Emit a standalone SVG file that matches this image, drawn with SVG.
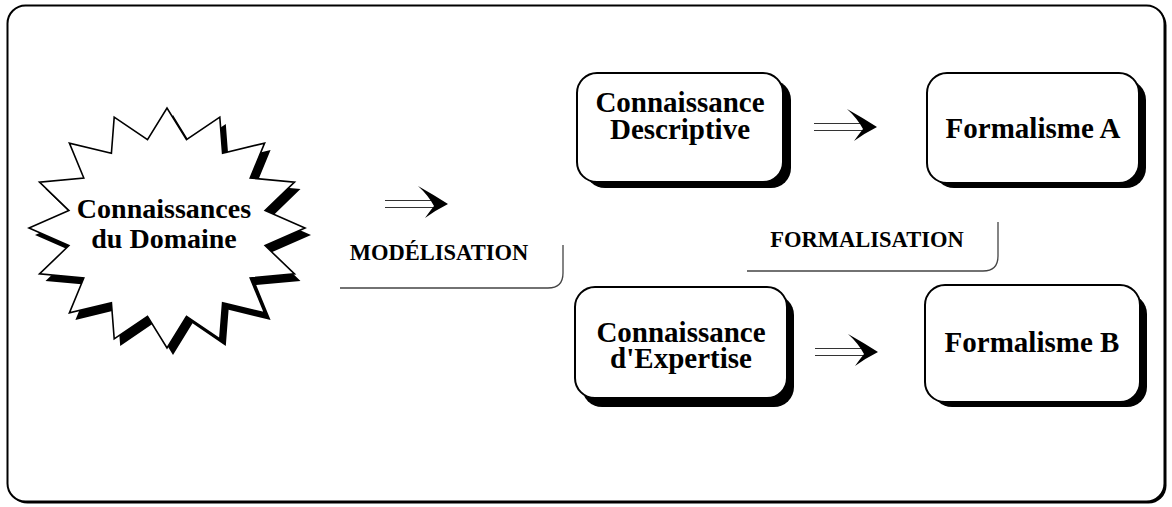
<svg xmlns="http://www.w3.org/2000/svg" width="1172" height="507" viewBox="0 0 1172 507">
  <style>
    text { font-family: 'Liberation Serif', 'DejaVu Serif', serif; font-weight: bold; fill: #000; text-anchor: middle; }
    .big { font-size: 29px; }
    .star { font-size: 28px; }
    .cap { font-size: 22.5px; }
    .box { fill: #fff; stroke: #000; stroke-width: 2; }
    .shadow { fill: #000; }
    .bracket { fill: none; stroke: #444; stroke-width: 1.3; }
    .shaft { stroke: #333; stroke-width: 1.2; }
    .head { fill: #000; }
  </style>
  <defs>
    <!-- double-shafted swept arrow, tip at (0,0) -->
    <g id="sweep">
      <line class="shaft" x1="-63" y1="-3.5" x2="-12" y2="-3.5"/>
      <line class="shaft" x1="-63" y1="3.5" x2="-12" y2="3.5"/>
      <path class="head" d="M-30,-18 Q-14,-9 0,0 Q-12,6 -23,14 Q-18,7 -14,2 Q-20,-9 -30,-18 Z"/>
    </g>
    <polygon id="burst" points="305,228 265.1,245.6 294.5,273.9 250.2,278 264.6,312.9 222.6,302.8 219.8,338.9 186.5,316.3 167,348 147.5,316.3 114.2,338.9 111.4,302.8 69.4,312.9 83.8,278 39.5,273.9 68.9,245.6 29,228 68.9,210.4 39.5,182.1 83.8,178 69.4,143.1 111.4,153.2 114.2,117.1 147.5,139.7 167,108 186.5,139.7 219.8,117.1 222.6,153.2 264.6,143.1 250.2,178 294.5,182.1 265.1,210.4"/>
  </defs>

  <!-- outer frame with a thin drop shadow -->
  <g id="frame">
    <rect x="9.5" y="7.5" width="1157" height="496" rx="18" class="shadow"/>
    <rect x="7.5" y="5.5" width="1157" height="496" rx="18" class="box"/>
  </g>

  <g id="domaine">
    <use href="#burst" transform="translate(6,7)" class="shadow"/>
    <use href="#burst" fill="#fff" stroke="#000" stroke-width="1.6" stroke-linejoin="miter"/>
    <text class="star" x="164" y="218" font-family="Liberation Serif, serif">Connaissances</text>
    <text class="star" x="164" y="248" font-family="Liberation Serif, serif">du Domaine</text>
  </g>

  <g id="descriptive">
    <rect x="585" y="80" width="206" height="108" rx="20" class="shadow"/>
    <rect x="577" y="73" width="206" height="109" rx="20" class="box"/>
    <text class="big" x="680" y="112" font-family="Liberation Serif, serif">Connaissance</text>
    <text class="big" x="680" y="139" font-family="Liberation Serif, serif">Descriptive</text>
  </g>

  <g id="formalismeA">
    <rect x="934" y="80" width="212" height="108" rx="20" class="shadow"/>
    <rect x="927" y="73" width="212" height="110" rx="20" class="box"/>
    <text class="big" x="1033" y="138" font-family="Liberation Serif, serif">Formalisme A</text>
  </g>

  <g id="expertise">
    <rect x="582" y="295" width="212" height="112" rx="20" class="shadow"/>
    <rect x="575" y="287" width="212" height="111" rx="20" class="box"/>
    <text class="big" x="681" y="342" font-family="Liberation Serif, serif">Connaissance</text>
    <text class="big" x="681" y="368" font-family="Liberation Serif, serif">d'Expertise</text>
  </g>

  <g id="formalismeB">
    <rect x="932" y="294" width="215" height="113" rx="20" class="shadow"/>
    <rect x="925" y="285" width="215" height="117" rx="20" class="box"/>
    <text class="big" x="1032" y="352" font-family="Liberation Serif, serif">Formalisme B</text>
  </g>

  <g id="connectors">
    <use href="#sweep" transform="translate(448,204)"/>
    <use href="#sweep" transform="translate(877,127)"/>
    <use href="#sweep" transform="translate(878,352)"/>

    <path class="bracket" d="M340,288 H548 Q563,288 563,273 V245"/>
    <text class="cap" x="439" y="260" font-family="Liberation Serif, serif">MODÉLISATION</text>

    <path class="bracket" d="M747,271 H983 Q998,271 998,256 V222"/>
    <text class="cap" x="867" y="247" font-family="Liberation Serif, serif">FORMALISATION</text>
  </g>
</svg>
